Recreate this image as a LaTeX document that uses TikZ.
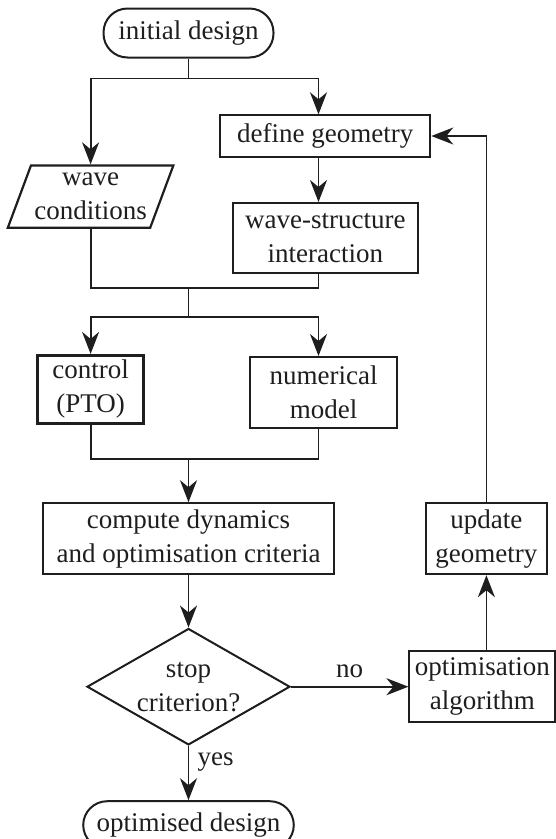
\documentclass[tikz,border=0pt]{standalone}
\usepackage{fontspec}
\setmainfont{Liberation Serif}
\usepackage{tikz}
\usetikzlibrary{shapes.geometric,arrows.meta,positioning,calc}
\definecolor{flowink}{RGB}{30,30,30}

\begin{document}
\begin{tikzpicture}[
    font=\fontsize{27}{34}\selectfont,
    every node/.style={text=flowink},
    terminal/.style={rectangle, draw=flowink, line width=2pt, rounded corners=24pt, align=center, inner sep=0pt, minimum height=49pt},
    block/.style={rectangle, draw=flowink, line width=2pt, align=center, inner sep=0pt},
    io/.style={trapezium, trapezium left angle=65, trapezium right angle=115, trapezium stretches=true, draw=flowink, line width=2.2pt, align=center, inner sep=0pt},
    decision/.style={diamond, draw=flowink, line width=2pt, align=center, inner sep=0pt, aspect=1.74},
    link/.style={draw=flowink, line width=1.8pt},
    arrow/.style={link, -{Stealth[length=22pt, width=17pt, inset=7pt]}}
]
\useasboundingbox (0,0) rectangle (555pt,-839pt);

\node[terminal, minimum width=170pt] (init) at (188.5pt,-33pt) {initial design};
\node[block, minimum width=210pt, minimum height=41.4pt, below=55.8pt of init, xshift=136.8pt] (dg) {define geometry};
\node[io, minimum width=165.7pt, minimum height=62.4pt, below=105.8pt of init, xshift=-97.9pt] (wave) {wave\\conditions};
\node[block, minimum width=185pt, minimum height=70.3pt, below=44.3pt of dg] (wsi) {wave-structure\\interaction};
\node[block, line width=3pt, minimum width=105.5pt, minimum height=68pt, below=125pt of wave] (ctrl) {control\\(PTO)};
\node[block, minimum width=147pt, minimum height=71pt, below=81.7pt of wsi, xshift=-1.7pt] (num) {numerical\\model};
\node[block, minimum width=291.3pt, minimum height=70.7pt, below=77.3pt of ctrl, xshift=97.9pt] (comp) {compute dynamics\\and optimisation criteria};
\node[decision, minimum width=203pt, minimum height=116.4pt, below=52.6pt of comp] (dec) {stop\\criterion?};
\node[terminal, minimum width=210.6pt, minimum height=47.7pt, below=54.3pt of dec] (out) {optimised design};
\node[block, minimum width=146pt, minimum height=71pt, right=117.4pt of dec] (opt) {optimisation\\algorithm};
\node[block, minimum width=121.4pt, minimum height=71pt, above=75pt of opt, xshift=4pt] (upd) {update\\geometry};

\coordinate[below=20pt of init] (split1);
\coordinate[right=130pt of split1] (rcol);
\coordinate[below=229.8pt of init] (join1);
\coordinate[below=28.4pt of join1] (split2);
\coordinate[above=43.3pt of comp] (join2);

\draw[arrow] (init.south) -- (split1) -| (wave.north);
\draw[arrow] (split1) -- (rcol) -- (rcol |- dg.north);
\draw[arrow] (rcol |- dg.south) -- (rcol |- wsi.north);
\draw[link] (wave.south) |- (join1) -| (rcol |- wsi.south);
\draw[arrow] (join1) -- (split2) -| (ctrl.north);
\draw[arrow] (split2) -| (rcol |- num.north);
\draw[link] (ctrl.south) |- (join2) -| (rcol |- num.south);
\draw[arrow] (join2) -- (comp.north);
\draw[arrow] (comp) -- (dec);
\draw[arrow] (dec) -- node[right, pos=0.3, xshift=5pt] {yes} (out);
\draw[arrow] (dec) -- node[above, yshift=5pt] {no} (opt);
\draw[arrow] (opt.north -| upd) -- (upd.south);
\draw[arrow] (upd.north) |- (dg.east);

\end{tikzpicture}
\end{document}
